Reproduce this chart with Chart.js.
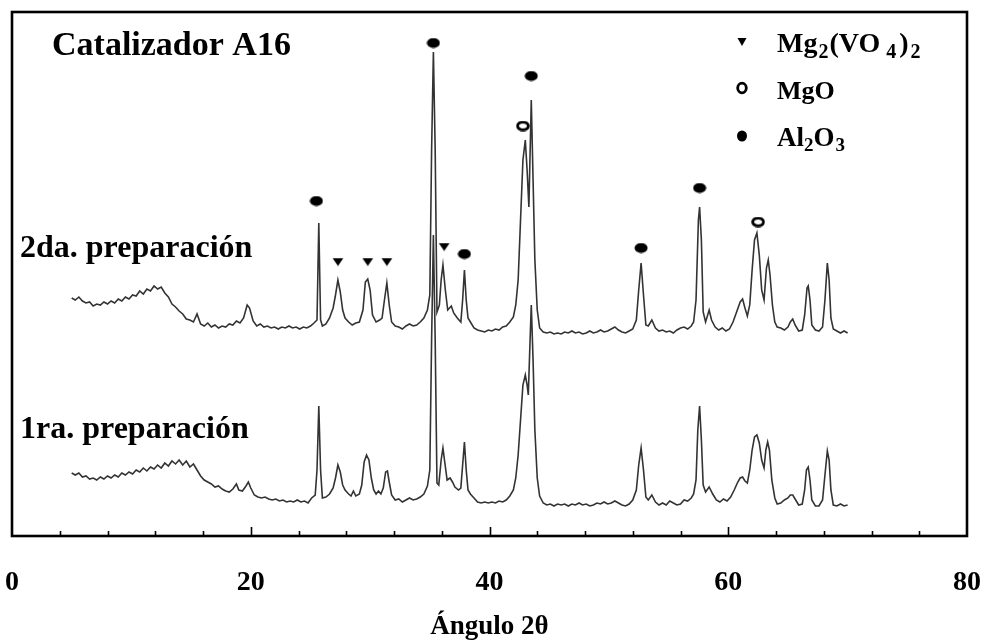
<!DOCTYPE html>
<html>
<head>
<meta charset="utf-8">
<script src="https://cdn.jsdelivr.net/npm/chart.js@4.4.0/dist/chart.umd.min.js"></script>
<style>
  html, body { margin: 0; padding: 0; background: #fff; }
  #wrap { width: 986px; height: 641px; }
</style>
</head>
<body>
<div id="wrap"><canvas id="xrd-chart"></canvas></div>
<script>
// XRD patterns, [2theta, intensity a.u.] (traces are stacked with offset as in the figure)
var prep2 = [
  [5.0,238],[5.3,236],[5.6,239],[5.9,235],[6.2,233],[6.5,234],[6.8,230],[7.1,232],[7.4,231],[7.7,234],
  [8.0,232],[8.3,235],[8.6,233],[8.9,237],[9.2,235],[9.5,239],[9.8,237],[10.1,241],[10.4,240],[10.7,245],
  [11.0,242],[11.3,247],[11.6,245],[11.9,250],[12.2,247],[12.5,249],[12.8,243],[13.1,239],[13.4,232],[13.7,229],
  [14.0,225],[14.3,222],[14.6,217],[14.9,216],[15.2,214],[15.5,222],[15.8,212],[16.1,210],[16.4,213],[16.7,209],
  [17.0,211],[17.3,208],[17.6,210],[17.9,209],[18.2,212],[18.5,211],[18.8,215],[19.1,213],[19.4,218],[19.7,231],
  [19.9,228],[20.2,215],[20.5,210],[20.8,212],[21.1,209],[21.4,210],[21.7,208],[22.0,209],[22.3,207],[22.6,209],
  [22.9,208],[23.2,210],[23.5,208],[23.8,209],[24.1,207],[24.4,209],[24.7,208],[25.0,210],[25.3,213],[25.55,216],
  [25.7,313],[25.85,216],[26.0,210],[26.3,212],[26.6,218],[26.9,228],[27.1,241],[27.3,256],[27.5,244],[27.7,226],
  [27.9,218],[28.2,214],[28.5,211],[28.8,213],[29.1,214],[29.4,226],[29.6,254],[29.8,257],[30.0,246],[30.2,221],
  [30.5,214],[30.8,216],[31.0,218],[31.2,236],[31.4,253],[31.6,231],[31.8,214],[32.1,210],[32.4,209],[32.7,207],
  [33.0,210],[33.3,212],[33.6,210],[33.9,211],[34.2,214],[34.5,218],[34.8,226],[35.0,241],[35.15,386],[35.3,484],
  [35.45,386],[35.6,224],[35.8,231],[35.95,256],[36.1,271],[36.3,246],[36.5,226],[36.8,230],[37.0,223],[37.3,218],
  [37.6,214],[37.75,236],[37.9,266],[38.05,236],[38.2,218],[38.4,214],[38.7,208],[39.0,206],[39.3,205],[39.6,204],
  [39.9,206],[40.2,205],[40.5,207],[40.8,206],[41.1,209],[41.4,210],[41.7,214],[42.0,219],[42.2,231],[42.4,256],
  [42.6,316],[42.8,376],[43.0,396],[43.15,366],[43.3,329],[43.5,436],[43.65,356],[43.8,276],[44.0,226],[44.2,208],
  [44.5,204],[44.8,203],[45.1,204],[45.4,202],[45.7,203],[46.0,202],[46.3,204],[46.6,203],[46.9,205],[47.2,203],
  [47.5,204],[47.8,202],[48.1,203],[48.4,205],[48.7,203],[49.0,204],[49.3,206],[49.6,204],[49.9,205],[50.2,207],
  [50.5,209],[50.8,206],[51.1,204],[51.4,203],[51.7,205],[52.0,207],[52.3,216],[52.5,246],[52.7,273],[52.9,241],
  [53.1,211],[53.3,210],[53.6,216],[53.9,208],[54.2,205],[54.5,206],[54.8,204],[55.1,205],[55.4,203],[55.7,206],
  [56.0,208],[56.3,209],[56.6,207],[56.9,210],[57.1,214],[57.3,236],[57.5,316],[57.6,329],[57.75,296],[57.9,224],
  [58.1,214],[58.4,226],[58.6,216],[58.9,209],[59.2,206],[59.5,208],[59.8,205],[60.1,207],[60.4,214],[60.7,224],
  [61.0,234],[61.2,237],[61.4,228],[61.6,220],[61.8,231],[62.0,266],[62.2,296],[62.4,303],[62.6,281],[62.8,246],
  [63.0,236],[63.2,268],[63.35,276],[63.5,261],[63.7,231],[63.9,214],[64.1,209],[64.4,208],[64.7,206],[65.0,209],
  [65.2,214],[65.4,217],[65.6,211],[65.9,205],[66.2,206],[66.4,221],[66.6,248],[66.7,250],[66.85,236],[67.0,211],
  [67.3,206],[67.6,205],[67.9,209],[68.1,236],[68.3,273],[68.45,256],[68.6,218],[68.8,207],[69.1,205],[69.4,203],
  [69.7,205],[70.0,203]
];

var prep1 = [
  [5.0,63],[5.3,61],[5.6,63],[5.9,59],[6.2,60],[6.5,57],[6.8,58],[7.1,56],[7.4,59],[7.7,57],
  [8.0,60],[8.3,58],[8.6,61],[8.9,59],[9.2,63],[9.5,61],[9.8,64],[10.1,62],[10.4,66],[10.7,64],
  [11.0,68],[11.3,65],[11.6,69],[11.9,67],[12.2,71],[12.5,68],[12.8,73],[13.1,70],[13.4,75],[13.7,72],
  [14.0,76],[14.3,71],[14.6,75],[14.9,69],[15.2,72],[15.5,66],[15.8,60],[16.1,56],[16.4,54],[16.7,52],
  [17.0,49],[17.3,50],[17.6,47],[17.9,45],[18.2,44],[18.5,47],[18.8,52],[19.0,46],[19.3,45],[19.6,50],
  [19.8,54],[20.0,48],[20.3,41],[20.6,39],[20.9,38],[21.2,39],[21.5,37],[21.8,36],[22.1,37],[22.4,35],
  [22.7,36],[23.0,34],[23.3,35],[23.6,34],[23.9,36],[24.2,34],[24.5,35],[24.8,33],[25.1,38],[25.4,41],
  [25.55,66],[25.7,130],[25.85,66],[26.0,38],[26.3,39],[26.6,42],[26.9,48],[27.1,58],[27.3,71],[27.5,64],
  [27.7,51],[27.9,46],[28.2,42],[28.4,40],[28.6,45],[28.8,40],[29.1,42],[29.3,51],[29.5,74],[29.7,81],
  [29.9,76],[30.1,58],[30.3,46],[30.5,42],[30.7,45],[30.9,42],[31.1,48],[31.3,64],[31.45,65],[31.6,54],
  [31.8,41],[32.1,36],[32.4,37],[32.7,34],[33.0,36],[33.3,38],[33.6,36],[33.9,37],[34.2,39],[34.5,42],
  [34.8,50],[35.0,66],[35.15,196],[35.3,301],[35.45,196],[35.6,53],[35.75,51],[35.95,76],[36.1,88],[36.25,74],
  [36.45,56],[36.7,58],[36.9,54],[37.1,49],[37.4,46],[37.6,48],[37.75,71],[37.9,94],[38.05,66],[38.2,46],
  [38.4,42],[38.7,38],[39.0,34],[39.3,33],[39.6,34],[39.9,33],[40.2,34],[40.5,33],[40.8,35],[41.1,34],
  [41.4,36],[41.7,40],[42.0,46],[42.2,58],[42.4,81],[42.6,116],[42.8,151],[43.0,161],[43.15,151],[43.25,141],
  [43.4,196],[43.5,231],[43.65,176],[43.8,106],[44.0,58],[44.2,40],[44.5,33],[44.8,31],[45.1,32],[45.4,30],
  [45.7,32],[46.0,31],[46.3,32],[46.6,30],[46.9,32],[47.2,31],[47.5,33],[47.8,31],[48.1,32],[48.4,30],
  [48.7,31],[49.0,33],[49.3,32],[49.6,34],[49.9,32],[50.2,33],[50.5,35],[50.8,33],[51.1,31],[51.4,30],
  [51.7,32],[52.0,36],[52.3,46],[52.5,71],[52.7,88],[52.9,66],[53.1,39],[53.3,36],[53.6,41],[53.9,34],
  [54.2,31],[54.5,33],[54.8,31],[55.1,35],[55.4,33],[55.7,31],[56.0,32],[56.3,36],[56.6,35],[56.9,38],
  [57.1,42],[57.3,56],[57.45,106],[57.6,130],[57.75,96],[57.9,51],[58.1,44],[58.4,49],[58.7,42],[59.0,36],
  [59.3,34],[59.6,37],[59.9,35],[60.2,39],[60.5,46],[60.8,54],[61.0,58],[61.2,59],[61.4,55],[61.6,53],
  [61.8,66],[62.0,86],[62.2,99],[62.4,101],[62.6,93],[62.8,76],[63.0,68],[63.15,86],[63.3,94],[63.45,86],
  [63.65,56],[63.9,38],[64.1,32],[64.4,33],[64.7,36],[65.0,38],[65.2,41],[65.4,41],[65.6,37],[65.9,31],
  [66.2,32],[66.4,46],[66.55,66],[66.7,69],[66.85,56],[67.0,36],[67.3,30],[67.6,30],[67.9,36],[68.1,61],
  [68.3,85],[68.45,76],[68.6,46],[68.8,31],[69.1,30],[69.4,32],[69.7,30],[70.0,31]
];

// phase markers (angle, height at which the symbol sits)
var al2o3Angles = [25.5, 35.3, 37.9, 43.5, 52.7, 57.6];
var al2o3Heights = [335, 493, 282, 460, 288, 348];
var mgoAngles = [42.8, 62.5];
var mgoHeights = [410, 314];
var vanadatoAngles = [27.3, 29.8, 31.4, 36.2];
var vanadatoHeights = [274, 274, 274, 289];

var xTicks = [0, 20, 40, 60, 80];

var SERIF = '"Liberation Serif", "Times New Roman", serif';

function toPoints(arr) {
    return arr.map(function (p) { return { x: p[0], y: p[1] }; });
}
function markerPoints(xs, ys) {
    return xs.map(function (x, i) { return { x: x, y: ys[i] }; });
}

// little canvases used as point styles
function makeSymbol(kind, w, h) {
    var c = document.createElement('canvas');
    c.width = w; c.height = h;
    var g = c.getContext('2d');
    g.fillStyle = '#000';
    g.strokeStyle = '#000';
    if (kind === 'dot') {
        g.beginPath();
        g.ellipse(w / 2, h / 2, w / 2 - 0.5, h / 2 - 0.5, 0, 0, Math.PI * 2);
        g.fill();
    } else if (kind === 'ring') {
        g.lineWidth = 2.8;
        g.beginPath();
        g.ellipse(w / 2, h / 2, w / 2 - 1.6, h / 2 - 1.6, 0, 0, Math.PI * 2);
        g.stroke();
    } else {
        g.beginPath();
        g.moveTo(0.5, 0.5);
        g.lineTo(w - 0.5, 0.5);
        g.lineTo(w / 2, h - 0.5);
        g.closePath();
        g.fill();
    }
    return c;
}

var dotBig = makeSymbol('dot', 14, 11);
var ringBig = makeSymbol('ring', 14, 11);
var triBig = makeSymbol('tri', 12, 9);

// parts: [text, isSubscript, extra gap after]
function drawSubText(ctx, parts, x, y, size) {
    var cx = x;
    parts.forEach(function (p) {
        var sub = p[1];
        ctx.font = 'bold ' + (sub ? Math.round(size * 0.72) : size) + 'px ' + SERIF;
        ctx.fillText(p[0], cx, sub ? y + size * 0.2 : y);
        cx += ctx.measureText(p[0]).width + (p[2] || 0);
    });
}

var decor = {
    id: 'decor',
    afterDraw: function (chart) {
        var ctx = chart.ctx;
        var a = chart.chartArea;
        var xs = chart.scales.x;
        ctx.save();
        ctx.strokeStyle = '#000';
        ctx.lineWidth = 2.6;
        ctx.strokeRect(a.left, a.top, a.right - a.left, a.bottom - a.top);

        // inner ticks on the bottom axis
        ctx.lineWidth = 1.6;
        for (var v = 4; v < 80; v += 4) {
            var px = Math.round(xs.getPixelForValue(v)) + 0.5;
            var len = v % 20 === 0 ? 9 : 5;
            ctx.beginPath();
            ctx.moveTo(px, a.bottom);
            ctx.lineTo(px, a.bottom - len);
            ctx.stroke();
        }

        ctx.fillStyle = '#000';
        ctx.textBaseline = 'alphabetic';
        ctx.textAlign = 'left';
        ctx.font = 'bold 34px ' + SERIF;
        ctx.fillText('Catalizador A16', 52, 55);
        ctx.font = 'bold 32px ' + SERIF;
        ctx.fillText('2da. preparación', 20, 257);
        ctx.fillText('1ra. preparación', 20, 438);

        // legend
        var sx = 742;
        var tx = 777;
        ctx.beginPath();
        ctx.moveTo(sx - 4.5, 38); ctx.lineTo(sx + 4.5, 38); ctx.lineTo(sx, 46); ctx.closePath();
        ctx.fill();
        ctx.lineWidth = 2.8;
        ctx.beginPath();
        ctx.ellipse(sx, 88, 4.3, 4.8, 0, 0, Math.PI * 2);
        ctx.stroke();
        ctx.beginPath();
        ctx.ellipse(sx, 136, 5, 5.5, 0, 0, Math.PI * 2);
        ctx.fill();

        drawSubText(ctx, [['Mg', 0, 1], ['2', 1, 1], ['(VO', 0, 6], ['4', 1, 3], [')', 0, 2], ['2', 1]], tx, 52, 28);
        drawSubText(ctx, [['MgO', 0]], tx, 99, 26);
        drawSubText(ctx, [['Al', 0], ['2', 1], ['O', 0, 1], ['3', 1]], tx, 146, 27);
        ctx.restore();
    }
};

var lineStyle = {
    borderColor: '#333',
    borderWidth: 1.6,
    pointRadius: 0,
    tension: 0,
    fill: false
};

var xrdChart = new Chart(document.getElementById('xrd-chart'), {
    type: 'line',
    data: {
        datasets: [
            Object.assign({ label: '2da. preparación', data: toPoints(prep2) }, lineStyle),
            Object.assign({ label: '1ra. preparación', data: toPoints(prep1) }, lineStyle),
            {
                type: 'scatter', label: 'Al2O3',
                data: markerPoints(al2o3Angles, al2o3Heights),
                pointStyle: dotBig, pointRadius: 7, showLine: false
            },
            {
                type: 'scatter', label: 'MgO',
                data: markerPoints(mgoAngles, mgoHeights),
                pointStyle: ringBig, pointRadius: 7, showLine: false
            },
            {
                type: 'scatter', label: 'Mg2(VO4)2',
                data: markerPoints(vanadatoAngles, vanadatoHeights),
                pointStyle: triBig, pointRadius: 6, showLine: false
            }
        ]
    },
    options: {
        responsive: true,
        maintainAspectRatio: false,
        animation: false,
        events: [],
        layout: { autoPadding: false, padding: { left: 12, right: 19, top: 12, bottom: 0 } },
        plugins: {
            legend: { display: false },
            tooltip: { enabled: false }
        },
        scales: {
            x: {
                type: 'linear',
                min: 0,
                max: 80,
                afterBuildTicks: function (scale) {
                    scale.ticks = xTicks.map(function (v) { return { value: v }; });
                },
                afterFit: function (scale) {
                    scale.height = 105;
                    scale.paddingLeft = 0;
                    scale.paddingRight = 0;
                },
                grid: { display: false, drawTicks: false },
                border: { display: false },
                ticks: {
                    autoSkip: false,
                    maxRotation: 0,
                    padding: 30,
                    color: '#000',
                    font: { family: SERIF, size: 28, weight: 'bold' }
                },
                title: {
                    display: true,
                    text: 'Ángulo 2θ',
                    color: '#000',
                    font: { family: SERIF, size: 27, weight: 'bold', lineHeight: 1 },
                    padding: { top: 16, bottom: 0 }
                }
            },
            y: {
                display: false,
                min: 0,
                max: 524
            }
        }
    },
    plugins: [decor]
});
</script>
</body>
</html>
